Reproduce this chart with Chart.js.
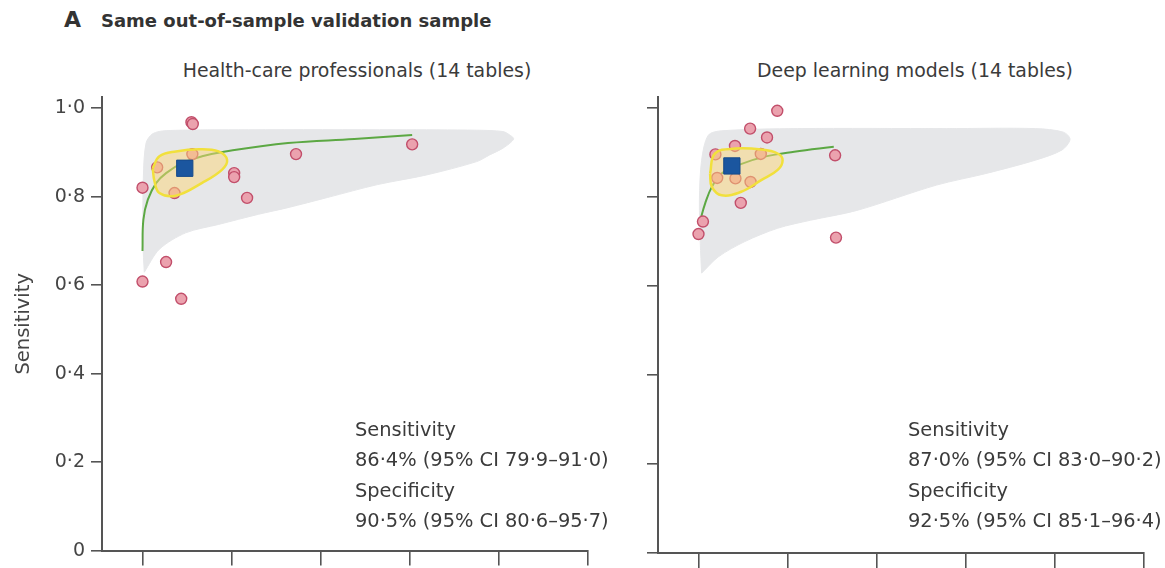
<!DOCTYPE html>
<html>
<head>
<meta charset="utf-8">
<title>SROC – same out-of-sample validation sample</title>
<script src="https://cdn.jsdelivr.net/npm/chart.js@4.4.1/dist/chart.umd.min.js"></script>
<style>
  html, body { margin: 0; padding: 0; background: #fff; }
  body { position: relative; width: 1165px; height: 568px; overflow: hidden;
         font-family: "DejaVu Sans", sans-serif; color: #3b3b3b; }
  .txt { position: absolute; white-space: nowrap; }
  #letter { left: 64px; top: 5px; font-size: 22px; line-height: 30px; font-weight: 700; color: #333; }
  #heading { left: 101px; top: 6px; font-size: 18px; line-height: 30px; font-weight: 700; color: #333; }
  .sub { top: 55px; width: 440px; text-align: center; font-size: 18.9px; line-height: 30px; }
  .stats { top: 415px; font-size: 19.4px; line-height: 30.3px; }
  canvas { position: absolute; top: 0; }
</style>
</head>
<body>
<div class="txt" id="letter">A</div>
<div class="txt" id="heading">Same out-of-sample validation sample</div>
<div class="txt sub" style="left:137px">Health-care professionals (14 tables)</div>
<div class="txt sub" style="left:695px">Deep learning models (14 tables)</div>
<canvas id="hcpChart" width="600" height="568" style="left:0"></canvas>
<canvas id="dlChart" width="600" height="568" style="left:556px"></canvas>
<div class="txt stats" style="left:355px">Sensitivity<br>86·4% (95% CI 79·9–91·0)<br>Specificity<br>90·5% (95% CI 80·6–95·7)</div>
<div class="txt stats" style="left:908px">Sensitivity<br>87·0% (95% CI 83·0–90·2)<br>Specificity<br>92·5% (95% CI 85·1–96·4)</div>
<script>
// axes
const axisTicks = [0, 0.2, 0.4, 0.6, 0.8, 1.0];
const sensTickLabels = ["0", "0·2", "0·4", "0·6", "0·8", "1·0"];
const specMax = 1.091;
const sensMax = 1.025;

// health-care professionals: individual tables
const hcpSpec = [0.890, 0.887, 0.967, 0.888, 1.000, 0.928, 0.794, 0.794, 0.765, 0.655, 0.394, 0.947, 1.000, 0.913];
const hcpSens = [0.968, 0.964, 0.866, 0.896, 0.820, 0.808, 0.853, 0.844, 0.797, 0.896, 0.918, 0.652, 0.608, 0.569];
// summary estimate (specificity, sensitivity)
const hcpSummary = [0.905, 0.864];
// SROC curve
const hcpCurveSpec = [1.000, 0.998, 0.988, 0.969, 0.947, 0.910, 0.866, 0.814, 0.673, 0.524, 0.394];
const hcpCurveSens = [0.677, 0.748, 0.793, 0.831, 0.853, 0.876, 0.891, 0.902, 0.921, 0.930, 0.939];
// 95% confidence region
const hcpConfSpec = [0.977, 0.962, 0.925, 0.873, 0.829, 0.810, 0.821, 0.866, 0.925, 0.962, 0.973];
const hcpConfSens = [0.864, 0.891, 0.902, 0.907, 0.902, 0.883, 0.861, 0.831, 0.802, 0.808, 0.834];
// 95% prediction region
const hcpPredSpec = [0.996, 0.999, 0.998, 0.992, 0.977, 0.947, 0.762, 0.428, 0.249, 0.190, 0.176, 0.166, 0.189, 0.220, 0.249, 0.361, 0.472, 0.584, 0.673, 0.739, 0.829, 0.903, 0.962];
const hcpPredSens = [0.629, 0.696, 0.846, 0.921, 0.942, 0.949, 0.951, 0.951, 0.950, 0.947, 0.940, 0.930, 0.910, 0.894, 0.879, 0.849, 0.827, 0.798, 0.775, 0.760, 0.737, 0.718, 0.681];

// deep learning models: individual tables
const dlSpec = [0.823, 0.884, 0.846, 0.918, 0.962, 0.860, 0.693, 0.958, 0.917, 0.883, 0.905, 0.990, 1.000, 0.691];
const dlSens = [0.994, 0.954, 0.934, 0.915, 0.896, 0.897, 0.894, 0.843, 0.842, 0.834, 0.787, 0.745, 0.717, 0.709];
const dlSummary = [0.925, 0.870];
const dlCurveSpec = [0.996, 0.985, 0.970, 0.948, 0.911, 0.851, 0.785, 0.696];
const dlCurveSens = [0.748, 0.786, 0.823, 0.853, 0.872, 0.891, 0.902, 0.913];
const dlConfSpec = [0.974, 0.963, 0.918, 0.859, 0.822, 0.811, 0.822, 0.859, 0.904, 0.948, 0.970];
const dlConfSens = [0.853, 0.898, 0.909, 0.907, 0.898, 0.883, 0.861, 0.838, 0.812, 0.804, 0.823];
const dlPredSpec = [0.993, 0.996, 0.998, 0.993, 0.978, 0.948, 0.777, 0.443, 0.243, 0.180, 0.165, 0.183, 0.243, 0.354, 0.465, 0.644, 0.748, 0.822, 0.896, 0.955];
const dlPredSens = [0.629, 0.696, 0.793, 0.883, 0.939, 0.949, 0.954, 0.954, 0.954, 0.946, 0.930, 0.906, 0.883, 0.853, 0.827, 0.770, 0.748, 0.730, 0.700, 0.666];

const ink = "#454545";
const face = "'DejaVu Sans', sans-serif";

function pairs(xs, ys) {
  return xs.map((x, i) => ({ x: x, y: ys[i] }));
}
function closed(xs, ys) {
  const pts = pairs(xs, ys);
  pts.push(pts[0]);
  return pts;
}

function drawPanel(id, p, withLabels) {
  new Chart(document.getElementById(id), {
    type: "scatter",
    data: {
      datasets: [
        {
          label: "95% prediction region",
          data: closed(p.predSpec, p.predSens),
          showLine: true, fill: "shape", tension: 0.3,
          backgroundColor: "#e6e7e9", borderColor: "#e6e7e9", borderWidth: 1,
          pointRadius: 0, order: 5,
        },
        {
          label: "SROC curve",
          data: pairs(p.curveSpec, p.curveSens),
          showLine: true, fill: false, tension: 0.4,
          borderColor: "#5ca843", borderWidth: 2,
          pointRadius: 0, order: 4,
        },
        {
          label: "Study estimate",
          data: pairs(p.spec, p.sens),
          pointRadius: 5.5, pointHoverRadius: 5.5,
          backgroundColor: "#eba2ae", borderColor: "#c24f6b", borderWidth: 1.4,
          order: 3,
        },
        {
          label: "95% confidence region",
          data: closed(p.confSpec, p.confSens),
          showLine: true, fill: "shape", tension: 0.4,
          backgroundColor: "rgba(252, 214, 120, 0.5)", borderColor: "#f1e03c", borderWidth: 2.5,
          pointRadius: 0, order: 2,
        },
        {
          label: "Summary estimate",
          data: [{ x: p.summary[0], y: p.summary[1] }],
          pointStyle: "rect", pointRadius: 11.5, pointHoverRadius: 11.5,
          backgroundColor: "#1b569f", borderColor: "#174a8a", borderWidth: 1,
          order: 1,
        },
      ],
    },
    options: {
      responsive: false,
      animation: false,
      layout: { padding: { top: 97, right: 11, left: 0, bottom: 0 } },
      plugins: { legend: { display: false }, tooltip: { enabled: false } },
      scales: {
        x: {
          type: "linear", reverse: true, min: 0, max: specMax,
          afterBuildTicks: (s) => { s.ticks = axisTicks.map((v) => ({ value: v })); },
          afterFit: (s) => { s.height = 15; },
          ticks: { display: false },
          grid: { drawOnChartArea: false, drawTicks: true, tickLength: 15, color: "#555", lineWidth: 1.6 },
          border: { color: "#555", width: 2 },
        },
        y: {
          type: "linear", min: 0, max: sensMax,
          afterBuildTicks: (s) => { s.ticks = axisTicks.map((v) => ({ value: v })); },
          afterFit: (s) => { s.width = 102; },
          ticks: {
            display: withLabels, padding: 6, color: ink,
            font: { family: face, size: 19 },
            callback: (v) => sensTickLabels[axisTicks.indexOf(Math.round(v * 10) / 10)],
          },
          title: {
            display: withLabels, text: "Sensitivity", color: ink,
            font: { family: face, size: 19.5 }, padding: { top: 12, bottom: 0 },
          },
          grid: { drawOnChartArea: false, drawTicks: true, tickLength: 11, color: "#555", lineWidth: 1.6 },
          border: { color: "#555", width: 2 },
        },
      },
    },
  });
}

drawPanel("hcpChart", {
  spec: hcpSpec, sens: hcpSens, summary: hcpSummary,
  curveSpec: hcpCurveSpec, curveSens: hcpCurveSens,
  confSpec: hcpConfSpec, confSens: hcpConfSens,
  predSpec: hcpPredSpec, predSens: hcpPredSens,
}, true);

drawPanel("dlChart", {
  spec: dlSpec, sens: dlSens, summary: dlSummary,
  curveSpec: dlCurveSpec, curveSens: dlCurveSens,
  confSpec: dlConfSpec, confSens: dlConfSens,
  predSpec: dlPredSpec, predSens: dlPredSens,
}, false);
</script>
</body>
</html>
